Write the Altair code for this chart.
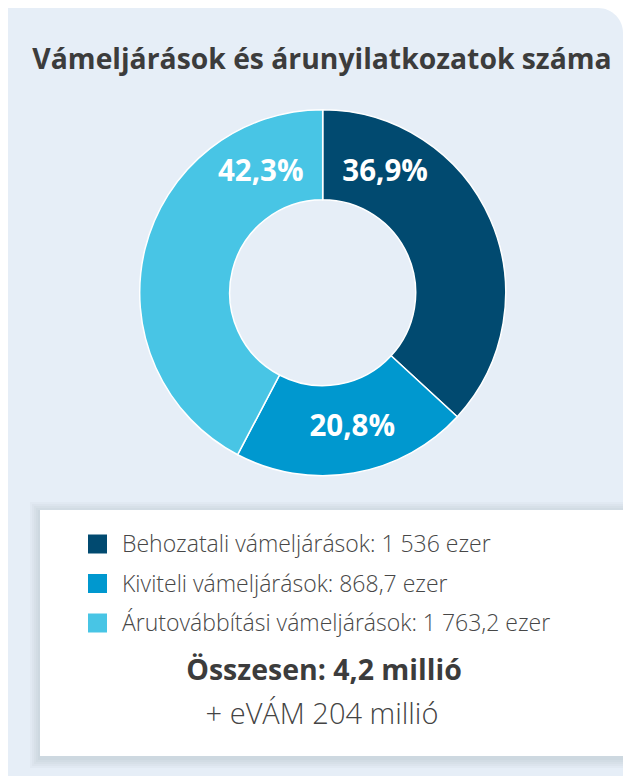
import altair as alt
import pandas as pd

# ---- data ----
categories = ["Behozatali vámeljárások", "Kiviteli vámeljárások", "Árutovábbítási vámeljárások"]
values = [1536.0, 868.7, 1763.2]  # ezer
pct_labels = ["36,9%", "20,8%", "42,3%"]
legend_labels = [
    "Behozatali vámeljárások: 1 536 ezer",
    "Kiviteli vámeljárások: 868,7 ezer",
    "Árutovábbítási vámeljárások: 1 763,2 ezer",
]
colors = ["#014a70", "#0098cf", "#48c5e5"]
title_text = "Vámeljárások és árunyilatkozatok száma"
total_text = "Összesen: 4,2 millió"
evam_text = "+ eVÁM 204 millió"

df = pd.DataFrame({
    "idx": list(range(len(categories))),
    "cat": categories,
    "value": values,
    "pct": pct_labels,
    "leg": legend_labels,
})
one = pd.DataFrame({"k": [0]})

W, H = 615, 768
CX, CY = 314.7, 284.7
PANEL = "#e6eef7"
TEXT = "#3c3c3c"

color_scale = alt.Scale(domain=categories, range=colors)

panel = alt.Chart(one).mark_rect(color=PANEL, cornerRadiusTopRight=25).encode(
    x=alt.value(0), x2=alt.value(W), y=alt.value(0), y2=alt.value(H)
)

title = alt.Chart(one).mark_text(
    text=title_text, font="Open Sans", fontWeight="bold", fontSize=28.3,
    color=TEXT, align="center", baseline="alphabetic"
).encode(x=alt.value(314), y=alt.value(61))

arc = alt.Chart(df).mark_arc(
    innerRadius=93, outerRadius=183, stroke="white", strokeWidth=1.5
).encode(
    theta=alt.Theta("value:Q", stack=True),
    color=alt.Color("cat:N", scale=color_scale, legend=None),
    order=alt.Order("idx:Q"),
    x=alt.value(CX), y=alt.value(CY),
)

offsets = [(-64, -65.5), (6, -2), (72, -88)]
label_layers = []
for i, (ddx, ddy) in enumerate(offsets):
    lab = alt.Chart(df).transform_window(
        cum="sum(value)", sort=[alt.SortField("idx")]
    ).transform_joinaggregate(
        total="sum(value)"
    ).transform_calculate(
        ang="2*PI*(datum.cum - datum.value/2)/datum.total"
    ).transform_filter(
        alt.datum.idx == i
    ).mark_text(
        radius=138, font="Open Sans", fontWeight="bold", fontSize=29.5,
        color="white", align="center", baseline="middle", dx=ddx, dy=ddy
    ).encode(
        theta=alt.Theta("ang:Q", scale=None, stack=False),
        text="pct:N",
        x=alt.value(CX), y=alt.value(CY),
    )
    label_layers.append(lab)

# legend box with soft shadow
BX0, BX1, BY0, BY1 = 32, W, 502, 748
shadow_layers = []
for k in [10, 8, 6, 4, 2]:
    shadow_layers.append(
        alt.Chart(one).mark_rect(color="#6f8296", opacity=0.045).encode(
            x=alt.value(BX0 - k), x2=alt.value(BX1),
            y=alt.value(BY0 - k + 2), y2=alt.value(BY1 + k + 2)
        )
    )
box = alt.Chart(one).mark_rect(color="white").encode(
    x=alt.value(BX0), x2=alt.value(BX1), y=alt.value(BY0), y2=alt.value(BY1)
)

row_scale = alt.Scale(type="point", domain=[0, 1, 2], range=[536, 615], padding=0)
squares = alt.Chart(df).mark_square(size=361, opacity=1).encode(
    x=alt.value(89.5),
    y=alt.Y("idx:O", scale=row_scale, axis=None),
    color=alt.Color("cat:N", scale=color_scale, legend=None),
)
leg_text = alt.Chart(df).mark_text(
    font="Open Sans", fontWeight=300, fontSize=23, color="#474747",
    align="left", baseline="middle", dy=1
).encode(
    x=alt.value(114),
    y=alt.Y("idx:O", scale=row_scale, axis=None),
    text="leg:N",
)

total = alt.Chart(one).mark_text(
    text=total_text, font="Open Sans", fontWeight="bold", fontSize=28.5,
    color=TEXT, align="center", baseline="alphabetic"
).encode(x=alt.value(316), y=alt.value(672))

evam = alt.Chart(one).mark_text(
    text=evam_text, font="Open Sans", fontWeight=300, fontSize=29,
    color="#444444", align="center", baseline="alphabetic"
).encode(x=alt.value(314), y=alt.value(716))

chart = alt.layer(
    panel, title, arc, *label_layers, *shadow_layers, box, squares, leg_text, total, evam
).properties(
    width=W, height=H, padding=0, background="white",
    autosize=alt.AutoSizeParams(type="none"),
).configure_view(stroke=None)

chart.save("out.html", embed_options={"renderer": "svg", "actions": False})
